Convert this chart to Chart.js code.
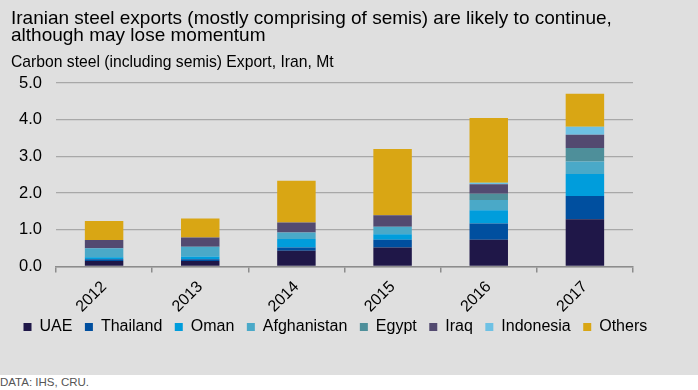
<!DOCTYPE html>
<html>
<head>
<meta charset="utf-8">
<script src="https://cdn.jsdelivr.net/npm/chart.js@4.4.1/dist/chart.umd.min.js"></script>
<style>
  html, body { margin: 0; padding: 0; background: #ffffff; }
  #wrap { position: relative; width: 698px; height: 375px; background: #dfdfdf; }
  #note {
    font-family: "Liberation Sans", Arial, sans-serif;
    font-size: 11.5px; color: #555555; padding: 1px 0 0 0; height: 14px;
  }
</style>
</head>
<body>
<div id="wrap"><canvas id="exportChart" width="698" height="375"></canvas></div>
<div id="note">DATA: IHS, CRU.</div>
<script>
    // Chart data (Mt)
    const years = ['2012', '2013', '2014', '2015', '2016', '2017'];
    const uae = [0.15, 0.15, 0.43, 0.52, 0.73, 1.29];
    const thailand = [0.05, 0.05, 0.09, 0.21, 0.44, 0.63];
    const oman = [0.05, 0.07, 0.23, 0.15, 0.36, 0.60];
    const afghanistan = [0.25, 0.27, 0.18, 0.20, 0.28, 0.34];
    const egypt = [0, 0, 0, 0, 0.17, 0.37];
    const iraq = [0.22, 0.25, 0.27, 0.32, 0.26, 0.36];
    const indonesia = [0, 0, 0, 0, 0.04, 0.22];
    const others = [0.52, 0.52, 1.14, 1.80, 1.77, 0.90];
    const yTicks = [0, 1, 2, 3, 4, 5];

    const font = '"Liberation Sans", Arial, sans-serif';

    // Background fill for the canvas
    const bgPlugin = {
        id: 'bg',
        beforeDraw(chart) {
            const ctx = chart.ctx;
            ctx.save();
            ctx.fillStyle = '#dfdfdf';
            ctx.fillRect(0, 0, chart.width, chart.height);
            ctx.restore();
        }
    };

    // Pull the legend up closer to the rotated year labels
    const legendShift = {
        id: 'legendShift',
        afterLayout(chart) {
            chart.legend.top -= 8;
            chart.legend.bottom -= 8;
        }
    };

    function series(label, data, color) {
        return {
            label: label,
            data: data,
            backgroundColor: color,
            borderWidth: 0,
            categoryPercentage: 1.0,
            barPercentage: 0.4
        };
    }

    const ctx = document.getElementById('exportChart').getContext('2d');
    new Chart(ctx, {
        type: 'bar',
        data: {
            labels: years,
            datasets: [
                series('UAE', uae, '#1f1748'),
                series('Thailand', thailand, '#004f9f'),
                series('Oman', oman, '#009ddc'),
                series('Afghanistan', afghanistan, '#4aa9c8'),
                series('Egypt', egypt, '#4e8f9a'),
                series('Iraq', iraq, '#534a70'),
                series('Indonesia', indonesia, '#6ec1e4'),
                series('Others', others, '#d9a614')
            ]
        },
        options: {
            responsive: false,
            animation: false,
            layout: {
                padding: { left: 11, right: 20, top: 0, bottom: 22 }
            },
            plugins: {
                title: {
                    display: true,
                    align: 'start',
                    text: ['Iranian steel exports (mostly comprising of semis) are likely to continue,',
                           'although may lose momentum'],
                    color: '#000000',
                    font: { family: font, size: 19, weight: 'normal', lineHeight: 0.9 },
                    padding: { top: 10, bottom: 9 }
                },
                subtitle: {
                    display: true,
                    align: 'start',
                    text: 'Carbon steel (including semis) Export, Iran, Mt',
                    color: '#000000',
                    font: { family: font, size: 15.7, lineHeight: 1.2 },
                    padding: { top: 0, bottom: 11 }
                },
                legend: {
                    position: 'bottom',
                    align: 'start',
                    labels: {
                        color: '#000000',
                        font: { family: font, size: 16 },
                        boxWidth: 8,
                        boxHeight: 8,
                        padding: 12.5
                    }
                },
                tooltip: { enabled: false }
            },
            scales: {
                x: {
                    stacked: true,
                    afterFit(axis) {
                        axis.height = 48;
                    },
                    grid: {
                        display: true,
                        drawOnChartArea: false,
                        drawTicks: true,
                        tickLength: 6,
                        color: '#8c8c8c',
                        lineWidth: 1.5,
                        offset: true
                    },
                    border: { display: true, color: '#8c8c8c', width: 1.5 },
                    ticks: {
                        color: '#000000',
                        font: { family: font, size: 16 },
                        maxRotation: 45,
                        minRotation: 45,
                        padding: 5
                    }
                },
                y: {
                    stacked: true,
                    min: 0,
                    max: 5,
                    afterBuildTicks(axis) {
                        axis.ticks = yTicks.map(v => ({ value: v }));
                    },
                    afterFit(axis) {
                        axis.width = 45;
                    },
                    grid: {
                        color: '#a8a8a8',
                        lineWidth: 1.3,
                        drawTicks: false
                    },
                    border: { display: false },
                    ticks: {
                        color: '#000000',
                        font: { family: font, size: 16.5 },
                        padding: 14,
                        callback: v => v.toFixed(1)
                    }
                },
                // empty right-hand margin so the plot ends where the reference's does
                yRight: {
                    position: 'right',
                    min: 0,
                    max: 5,
                    afterFit(axis) {
                        axis.width = 45;
                    },
                    grid: { drawOnChartArea: false, drawTicks: false },
                    border: { display: false },
                    ticks: { display: false }
                }
            }
        },
        plugins: [bgPlugin, legendShift]
    });
</script>
</body>
</html>
